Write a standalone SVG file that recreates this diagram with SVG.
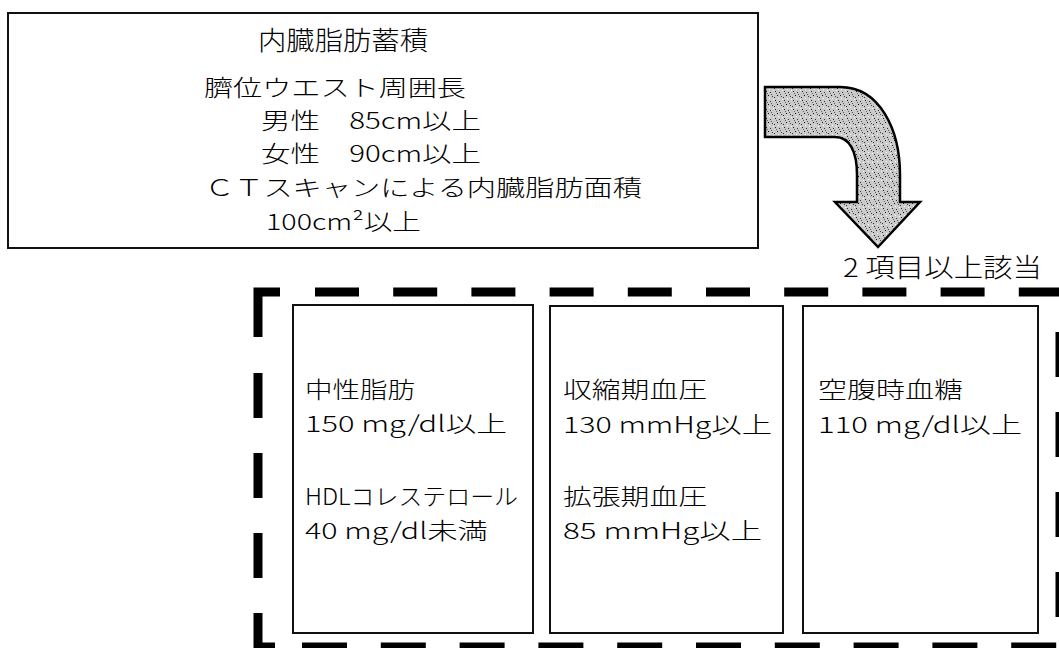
<svg xmlns="http://www.w3.org/2000/svg" width="1059" height="648" viewBox="0 0 1059 648">
<style>
.t{font-family:"Noto Sans CJK JP","Noto Sans",sans-serif;font-size:22.5px;font-weight:300;fill:#000}
.h{font-size:26px}
.box{fill:#fff;stroke:#111;stroke-width:2}
.dash{fill:none;stroke:#000;stroke-width:9}
</style>
<defs>
<pattern id="stip" width="9" height="9" patternUnits="userSpaceOnUse">
<rect width="9" height="9" fill="#cacaca"/>
<rect x="1" y="1" width="1" height="1" fill="#222"/>
<rect x="5" y="2" width="1" height="1" fill="#333"/>
<rect x="3" y="5" width="1" height="1" fill="#111"/>
<rect x="7" y="6" width="1" height="1" fill="#444"/>
<rect x="0" y="7" width="1" height="1" fill="#333"/>
<rect x="6" y="4" width="1" height="1" fill="#555"/>
<rect x="2" y="3" width="1" height="1" fill="#666"/>
<rect x="8" y="0" width="1" height="1" fill="#fff"/>
<rect x="4" y="8" width="1" height="1" fill="#fff"/>
</pattern>
</defs>
<rect width="1059" height="648" fill="#fff"/>

<g id="top-box">
<rect class="box" x="8" y="13" width="750" height="235"/>
<text class="t h" x="258" y="50" textLength="170" lengthAdjust="spacingAndGlyphs">内臓脂肪蓄積</text>
<text class="t" x="204" y="96" textLength="262" lengthAdjust="spacingAndGlyphs">臍位ウエスト周囲長</text>
<text class="t" x="261" y="129" textLength="220" lengthAdjust="spacingAndGlyphs">男性　85cm以上</text>
<text class="t" x="261" y="162" textLength="220" lengthAdjust="spacingAndGlyphs">女性　90cm以上</text>
<text class="t" x="205" y="196" textLength="437" lengthAdjust="spacingAndGlyphs">ＣＴスキャンによる内臓脂肪面積</text>
<text class="t" x="266" y="230" textLength="155" lengthAdjust="spacingAndGlyphs">100cm²以上</text>
</g>

<g id="connectors">
<path d="M765,87 L840,87 C880,87 900,130 900,175 L900,202 L920,202 L878,247 L835,202 L857,202 L857,175 C857,152 850,137 835,137 L765,137 Z" fill="url(#stip)" stroke="#000" stroke-width="2.5" stroke-linejoin="miter"/>
</g>

<g id="label-2">
<text class="t h" x="843" y="277" textLength="199" lengthAdjust="spacingAndGlyphs">2 項目以上該当</text>
</g>

<g id="group-frame">
<path class="dash" d="M258,337 V292 H280"/>
<line class="dash" x1="315" y1="292" x2="1059" y2="292" stroke-dasharray="44 34.2"/>
<line class="dash" x1="258" y1="373" x2="258" y2="613" stroke-dasharray="45 35"/>
<path class="dash" d="M258,613 V647 H275"/>
<line class="dash" x1="302" y1="647" x2="1059" y2="647" stroke-dasharray="45 33.8"/>
<line class="dash" x1="1060" y1="332" x2="1060" y2="648" stroke-dasharray="45 35"/>
</g>

<g id="box-lipid">
<rect class="box" x="293" y="305" width="240" height="328"/>
<text class="t" x="305" y="398" textLength="110" lengthAdjust="spacingAndGlyphs">中性脂肪</text>
<text class="t" x="305" y="432" textLength="202" lengthAdjust="spacingAndGlyphs">150 mg/dl以上</text>
<text class="t" x="305" y="505" textLength="213" lengthAdjust="spacingAndGlyphs">HDLコレステロール</text>
<text class="t" x="305" y="539" textLength="183" lengthAdjust="spacingAndGlyphs">40 mg/dl未満</text>
</g>

<g id="box-bp">
<rect class="box" x="550" y="306" width="233" height="327"/>
<text class="t" x="563" y="398" textLength="144" lengthAdjust="spacingAndGlyphs">収縮期血圧</text>
<text class="t" x="563" y="433" textLength="209" lengthAdjust="spacingAndGlyphs">130 mmHg以上</text>
<text class="t" x="563" y="505" textLength="144" lengthAdjust="spacingAndGlyphs">拡張期血圧</text>
<text class="t" x="563" y="539" textLength="199" lengthAdjust="spacingAndGlyphs">85 mmHg以上</text>
</g>

<g id="box-glucose">
<rect class="box" x="803" y="306" width="235" height="327"/>
<text class="t" x="818" y="398" textLength="145" lengthAdjust="spacingAndGlyphs">空腹時血糖</text>
<text class="t" x="818" y="433" textLength="204" lengthAdjust="spacingAndGlyphs">110 mg/dl以上</text>
</g>
</svg>
